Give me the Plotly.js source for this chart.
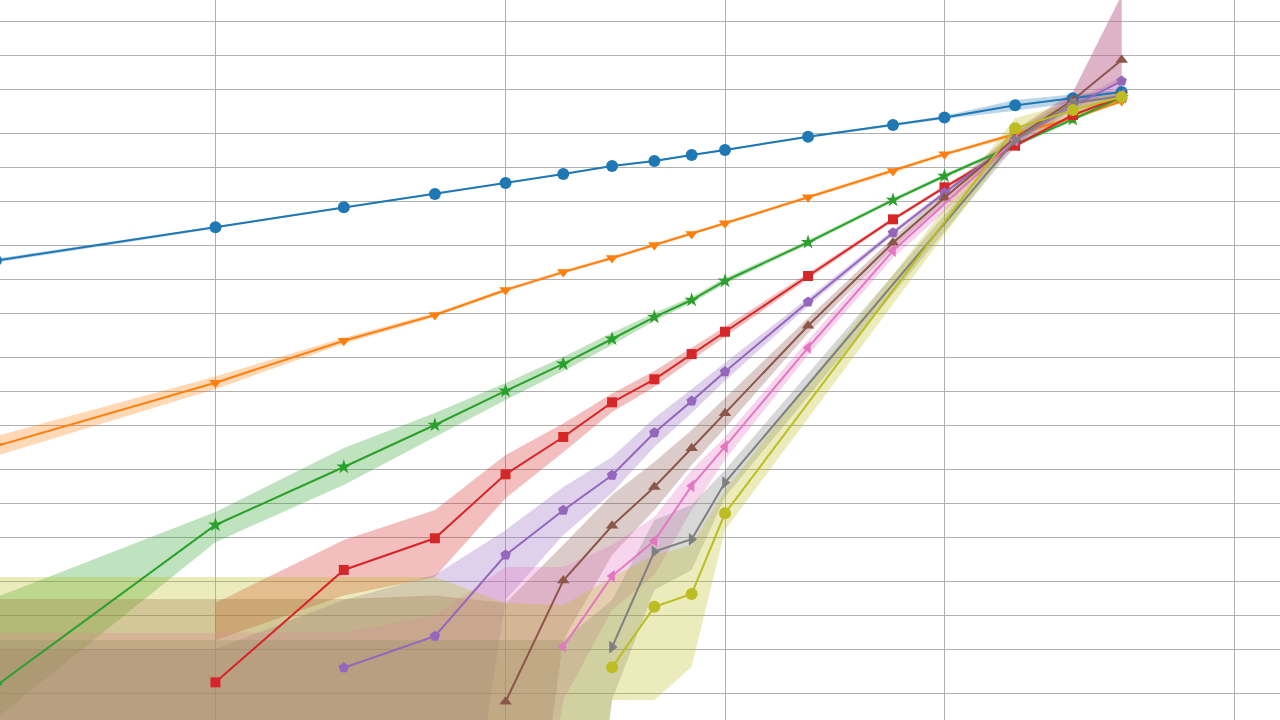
<!DOCTYPE html>
<html><head><meta charset="utf-8">
<script src="https://cdn.plot.ly/plotly-3.0.1.min.js"></script>
<style>html,body{margin:0;padding:0;background:#fff;}#chart{width:1280px;height:720px;}</style>
</head><body><div id="chart"></div>
<script>
// ---- data (log-log axes) ----
const TINY = 1e-8;

const blueX = [1,2,3,4,5,6,7,8,9,10,13,17,20,25,30,35];
const blueY = [0.147,0.291,0.44,0.578,0.724,0.871,1.027,1.14,1.29,1.427,1.876,2.39,2.79,3.58,4.13,4.70];
const blueLo = [0.141,0.284,0.432,0.568,0.712,0.858,1.01,1.12,1.27,1.40,1.84,2.33,2.70,3.20,3.75,4.45];
const blueHi = [0.153,0.298,0.448,0.588,0.736,0.884,1.04,1.16,1.31,1.45,1.91,2.45,2.88,3.98,4.52,4.96];

const orangeX = [1,2,3,4,5,6,7,8,9,10,13,17,20,25,30,35];
const orangeY = [0.00324,0.01194,0.0283,0.048,0.0802,0.116,0.155,0.202,0.254,0.316,0.54,0.927,1.306,1.98,2.74,3.91];
const orangeLo = [0.00264,0.0105,0.0266,0.0461,0.0772,0.1118,0.1496,0.195,0.245,0.305,0.521,0.895,1.26,1.90,2.64,3.77];
const orangeHi = [0.00398,0.01355,0.0301,0.050,0.0833,0.1204,0.1606,0.209,0.263,0.327,0.559,0.96,1.35,2.06,2.84,4.05];

const greenX = [1,2,3,4,5,6,7,8,9,10,13,17,20,25,30,35];
const greenY = [2.34e-5,6.4e-4,0.00211,0.0050,0.01007,0.01754,0.0293,0.046,0.0653,0.0966,0.214,0.51,0.836,1.58,2.68,4.22];
const greenLo = [1.2e-5,4.5e-4,0.00146,0.0039,0.00836,0.0152,0.0259,0.0424,0.0614,0.0908,0.205,0.489,0.802,1.52,2.57,4.05];
const greenHi = [1.45e-4,8.36e-4,0.00311,0.0064,0.01186,0.0202,0.0333,0.0499,0.0695,0.1028,0.223,0.531,0.871,1.65,2.79,4.40];

const redX = [2,3,4,5,6,7,8,9,10,13,17,20,25,30,35];
const redY = [2.52e-5,2.54e-4,4.87e-4,1.815e-3,3.91e-3,7.97e-3,0.0128,0.0215,0.034,0.107,0.343,0.663,1.56,2.93,4.27];
const redLo = [6.0e-5,1.5e-4,2.2e-4,1.11e-3,2.86e-3,6.52e-3,0.0109,0.019,0.0307,0.1006,0.329,0.636,1.50,2.81,4.10];
const redHi = [1.29e-4,4.7e-4,8.7e-4,2.7e-3,5.17e-3,9.55e-3,0.0152,0.02435,0.0377,0.114,0.357,0.69,1.63,3.05,4.45];

const purpleX = [3,4,5,6,7,8,9,10,13,17,20,25,30,35];
const purpleY = [3.4e-5,6.5e-5,3.45e-4,8.66e-4,1.78e-3,4.27e-3,8.17e-3,0.01496,0.0627,0.2606,0.593,1.75,3.53,5.89];
const purpleLo = [TINY,TINY,1.37e-4,5.2e-4,1.24e-3,3.18e-3,6.4e-3,0.01244,0.0578,0.246,0.567,1.66,3.3,5.3];
const purpleHi = [1.37e-4,2.29e-4,5.75e-4,1.4e-3,2.59e-3,5.77e-3,0.01047,0.018,0.068,0.276,0.62,1.85,3.75,6.5];

const brownX = [5,6,7,8,9,10,13,17,20,25,30,35];
const brownY = [1.69e-5,2.04e-4,6.3e-4,1.4e-3,3.1e-3,6.36e-3,0.0385,0.212,0.535,1.82,3.99,9.08];
const brownLo = [TINY,6.0e-5,3.46e-4,8.7e-4,2.2e-3,4.7e-3,0.033,0.19,0.48,1.58,3.67,6.0];
const brownHi = [1.29e-4,4.26e-4,1.19e-3,2.34e-3,4.52e-3,8.71e-3,0.0451,0.2357,0.602,2.15,4.7,34.5];

const pinkX = [6,7,8,9,10,13,17,25,30,35];
const pinkY = [5.25e-5,2.24e-4,4.63e-4,1.43e-3,3.2e-3,0.0245,0.18,1.75,3.67,4.4];
const pinkLo = [1.75e-5,1.12e-4,2.29e-4,8.7e-4,2.45e-3,0.0211,0.155,1.48,3.12,3.99];
const pinkHi = [2.7e-4,4.24e-4,7.55e-4,1.98e-3,3.9e-3,0.0287,0.2066,2.07,4.6,34.5];

const grayX = [7,8,9,10,25,30,35];
const grayY = [5.2e-5,3.7e-4,4.77e-4,1.53e-3,1.75,3.74,4.33];
const grayLo = [1.75e-5,1.68e-4,2.54e-4,1.14e-3,1.54,3.24,4.0];
const grayHi = [1.37e-4,7.1e-4,9.65e-4,1.98e-3,2.02,4.33,4.9];

const oliveX = [7,8,9,10,25,30,35];
const oliveY = [3.43e-5,1.19e-4,1.55e-4,8.14e-4,2.23,3.24,4.24];
const oliveLo = [1.75e-5,1.75e-5,3.47e-5,5.78e-4,1.75,2.75,3.75];
const oliveHi = [2.2e-4,3.45e-4,4.24e-4,1.31e-3,2.75,3.75,4.7];

// band upper bounds before a series' first point (its lower bound is below the axis there)
const purpleEarlyX = [1,2];
const purpleEarlyHi = [5.0e-5,5.0e-5];
const oliveEarlyX = [1,2,3,4,5,6];
const oliveEarlyHi = [2.2e-4,2.2e-4,2.2e-4,2.2e-4,1.29e-4,1.23e-4];
const pinkEarlyX = [1,2,3,4,5];
const pinkEarlyHi = [7.0e-5,7.0e-5,7.0e-5,1.0e-4,2.7e-4];
const brownEarlyX = [1,2,3,4];
const brownEarlyHi = [1.4e-4,1.4e-4,1.4e-4,1.5e-4];
const grayEarlyX = [1,2,3,4,5,6];
const grayEarlyHi = [6.0e-5,6.0e-5,6.0e-5,6.0e-5,6.0e-5,6.0e-5];

const series = [
  {name:'s1', color:'31,119,180', sym:'circle', size:12, x:blueX, y:blueY, lo:blueLo, hi:blueHi},
  {name:'s2', color:'255,127,14', sym:'triangle-down', size:11, x:orangeX, y:orangeY, lo:orangeLo, hi:orangeHi},
  {name:'s3', color:'44,160,44', sym:'star', size:11, x:greenX, y:greenY, lo:greenLo, hi:greenHi},
  {name:'s4', color:'214,39,40', sym:'square', size:10, x:redX, y:redY, lo:redLo, hi:redHi},
  {name:'s5', color:'148,103,189', sym:'pentagon', size:11, x:purpleX, y:purpleY, lo:purpleLo, hi:purpleHi, ex:purpleEarlyX, eh:purpleEarlyHi},
  {name:'s6', color:'140,86,75', sym:'triangle-up', size:11, x:brownX, y:brownY, lo:brownLo, hi:brownHi, ex:brownEarlyX, eh:brownEarlyHi},
  {name:'s7', color:'227,119,194', sym:'triangle-left', size:11, x:pinkX, y:pinkY, lo:pinkLo, hi:pinkHi, ex:pinkEarlyX, eh:pinkEarlyHi},
  {name:'s8', color:'127,127,127', sym:'triangle-right', size:11, x:grayX, y:grayY, lo:grayLo, hi:grayHi, ex:grayEarlyX, eh:grayEarlyHi},
  {name:'s9', color:'188,189,34', sym:'circle', size:12, x:oliveX, y:oliveY, lo:oliveLo, hi:oliveHi, ex:oliveEarlyX, eh:oliveEarlyHi}
];

const traces = [];
series.forEach(s => {
  const ex = s.ex || [], eh = s.eh || [];
  const bx = ex.concat(s.x);
  const bhi = eh.concat(s.hi);
  const blo = ex.map(() => TINY).concat(s.lo);
  traces.push({
    x: bx.concat(bx.slice().reverse()),
    y: bhi.concat(blo.slice().reverse()),
    type: 'scatter', mode: 'lines', fill: 'toself',
    fillcolor: 'rgba(' + s.color + ',0.3)', line: {width: 0},
    hoverinfo: 'skip', showlegend: false
  });
});
series.forEach(s => {
  traces.push({
    x: s.x, y: s.y, type: 'scatter', mode: 'lines+markers', name: s.name,
    line: {color: 'rgb(' + s.color + ')', width: 2},
    marker: {color: 'rgb(' + s.color + ')', symbol: s.sym, size: s.size, line: {width: 0}},
    showlegend: false
  });
});

const layout = {
  width: 1280, height: 720,
  margin: {l: 0, r: 0, t: 0, b: 0, pad: 0},
  paper_bgcolor: '#ffffff', plot_bgcolor: '#ffffff',
  showlegend: false,
  xaxis: {type: 'log', range: [0.0055, 1.7613], dtick: 'D2', showticklabels: false,
          showgrid: true, gridcolor: '#b0b0b0', gridwidth: 1, zeroline: false, showline: false, ticks: ''},
  yaxis: {type: 'log', range: [-4.935, 1.4938], dtick: 'D2', showticklabels: false,
          showgrid: true, gridcolor: '#b0b0b0', gridwidth: 1, zeroline: false, showline: false, ticks: ''}
};

Plotly.newPlot('chart', traces, layout, {displayModeBar: false, staticPlot: true});
</script>
</body></html>
